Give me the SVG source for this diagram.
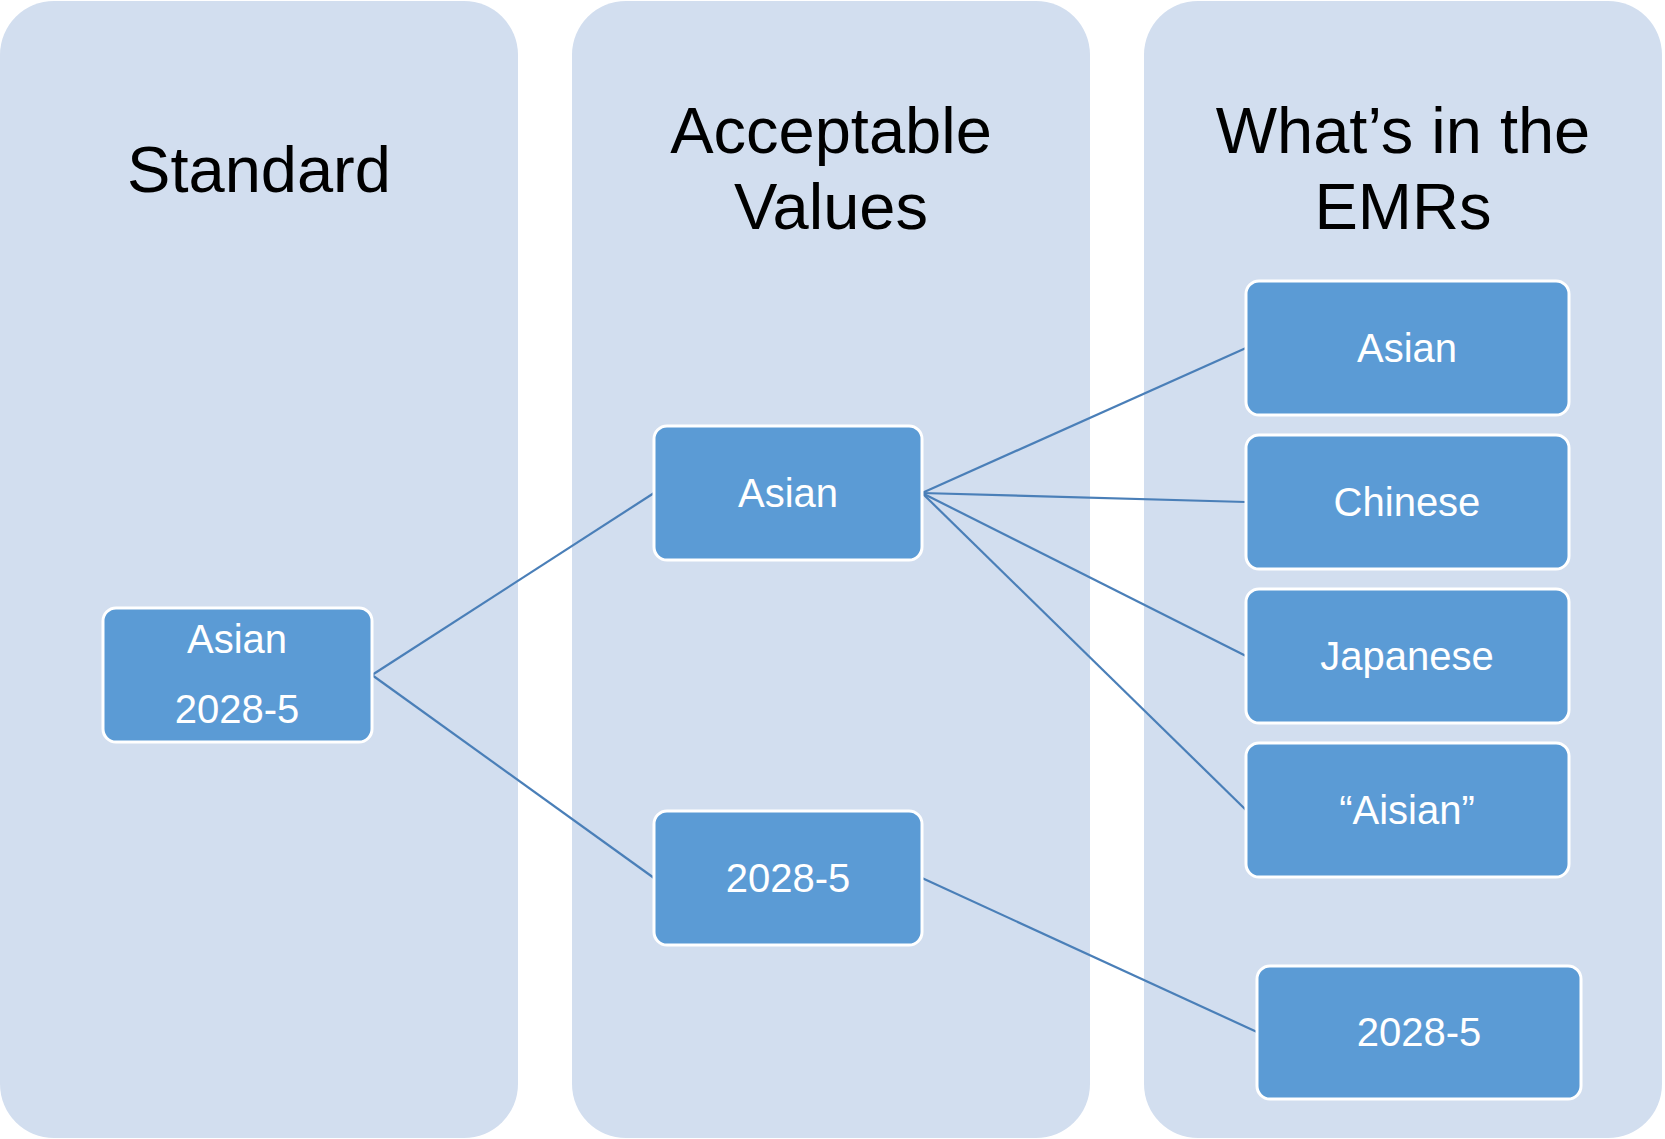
<svg xmlns="http://www.w3.org/2000/svg" width="1665" height="1139" viewBox="0 0 1665 1139">
<style>
.col{fill:#d2deef;}
.hdr{font-family:"Liberation Sans",Arial,sans-serif;font-size:65px;fill:#000;text-anchor:middle;}
.box{fill:#5b9bd5;stroke:#ffffff;stroke-width:3;}
.lbl{font-family:"Liberation Sans",Arial,sans-serif;font-size:40px;fill:#fff;text-anchor:middle;}
.conn{stroke:#4a7fb8;stroke-width:2.2;fill:none;}
</style>
<rect width="1665" height="1139" fill="#ffffff"/>
<g id="col-standard">
<rect class="col" x="0" y="1" width="518" height="1137" rx="54" ry="54"/>
<text class="hdr" x="259" y="192">Standard</text>
</g>
<g id="col-acceptable">
<rect class="col" x="572" y="1" width="518" height="1137" rx="54" ry="54"/>
<text class="hdr" x="831" y="153">Acceptable</text>
<text class="hdr" x="831" y="229">Values</text>
</g>
<g id="col-emrs">
<rect class="col" x="1144" y="1" width="518" height="1137" rx="54" ry="54"/>
<text class="hdr" x="1403" y="153">What’s in the</text>
<text class="hdr" x="1403" y="229">EMRs</text>
</g>
<g id="connectors">
<line class="conn" x1="372" y1="675" x2="654" y2="493"/>
<line class="conn" x1="372" y1="675" x2="654" y2="878"/>
<line class="conn" x1="922" y1="493" x2="1246" y2="348"/>
<line class="conn" x1="922" y1="493" x2="1246" y2="502"/>
<line class="conn" x1="922" y1="493" x2="1246" y2="656"/>
<line class="conn" x1="922" y1="493" x2="1246" y2="810"/>
<line class="conn" x1="922" y1="878" x2="1257" y2="1032"/>
</g>
<g id="node-standard">
<rect class="box" x="103" y="608" width="269" height="134" rx="13"/>
<text class="lbl" x="237" y="653">Asian</text>
<text class="lbl" x="237" y="723">2028-5</text>
</g>
<g id="node-acc-asian">
<rect class="box" x="654" y="426" width="268" height="134" rx="13"/>
<text class="lbl" x="788" y="507">Asian</text>
</g>
<g id="node-acc-code">
<rect class="box" x="654" y="811" width="268" height="134" rx="13"/>
<text class="lbl" x="788" y="892">2028-5</text>
</g>
<g id="node-emr-asian">
<rect class="box" x="1246" y="281" width="323" height="134" rx="13"/>
<text class="lbl" x="1407" y="362">Asian</text>
</g>
<g id="node-emr-chinese">
<rect class="box" x="1246" y="435" width="323" height="134" rx="13"/>
<text class="lbl" x="1407" y="516">Chinese</text>
</g>
<g id="node-emr-japanese">
<rect class="box" x="1246" y="589" width="323" height="134" rx="13"/>
<text class="lbl" x="1407" y="670">Japanese</text>
</g>
<g id="node-emr-aisian">
<rect class="box" x="1246" y="743" width="323" height="134" rx="13"/>
<text class="lbl" x="1407" y="824">“Aisian”</text>
</g>
<g id="node-emr-code">
<rect class="box" x="1257" y="966" width="324" height="133" rx="13"/>
<text class="lbl" x="1419" y="1046">2028-5</text>
</g>
</svg>
